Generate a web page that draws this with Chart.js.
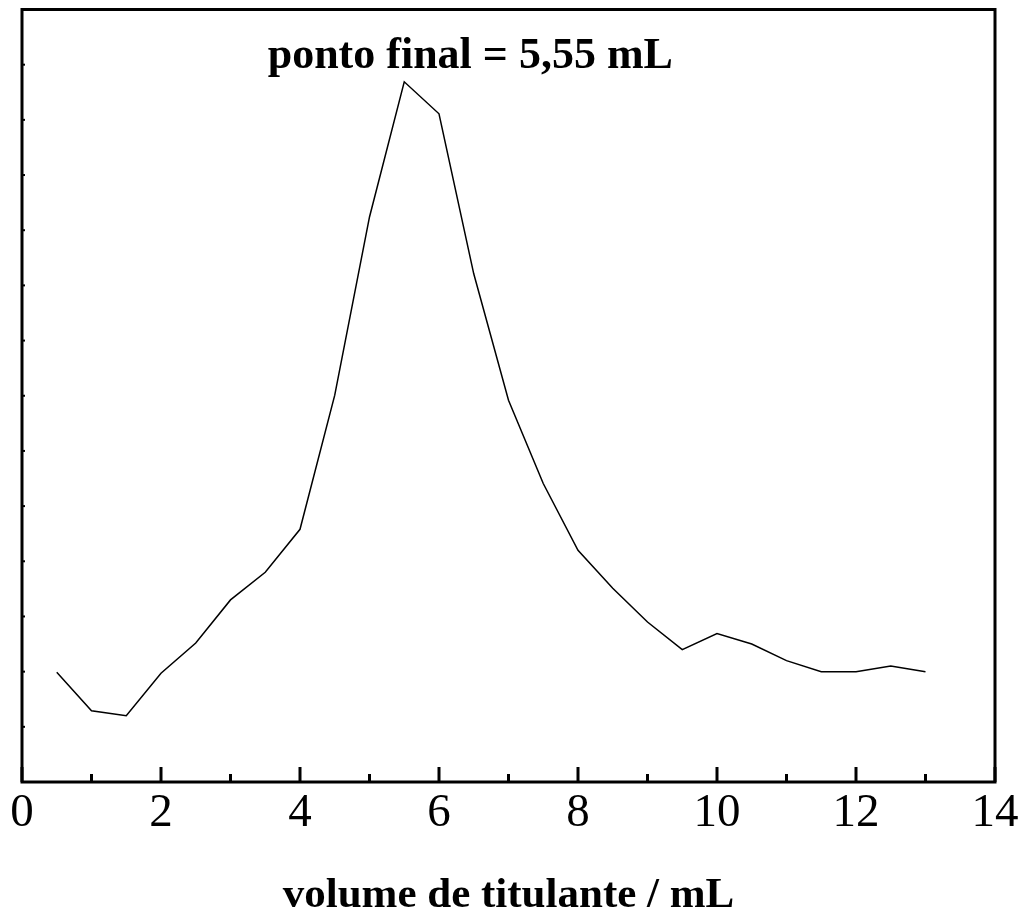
<!DOCTYPE html>
<html>
<head>
<meta charset="utf-8">
<script src="https://cdn.jsdelivr.net/npm/chart.js@4.4.1/dist/chart.umd.min.js"></script>
<style>
  html, body { margin: 0; padding: 0; background: #ffffff; }
  #wrap { width: 1024px; height: 912px; position: relative; }
</style>
</head>
<body>
<div id="wrap"><canvas id="c" width="1024" height="912"></canvas></div>
<script>
// ---- data ----
const volumes = [0.5, 1, 1.5, 2, 2.5, 3, 3.5, 4, 4.5, 5, 5.5, 6, 6.5, 7, 7.5, 8, 8.5, 9, 9.5, 10, 10.5, 11, 11.5, 12, 12.5, 13];
const derivative = [1.99, 1.29, 1.20, 1.97, 2.52, 3.30, 3.80, 4.58, 7.01, 10.24, 12.69, 12.11, 9.21, 6.92, 5.41, 4.20, 3.51, 2.90, 2.40, 2.69, 2.50, 2.20, 2.00, 2.00, 2.10, 2.00];
const xTickLabels = ['0', '2', '4', '6', '8', '10', '12', '14'];
const xTitle = 'volume de titulante / mL';
const annotationText = 'ponto final = 5,55 mL';
const annotationX = 6.45; // in x data units (text centre)

const points = volumes.map((v, i) => ({ x: v, y: derivative[i] }));

const framePlugin = {
  id: 'frame',
  afterDraw(chart) {
    const { ctx, chartArea: a, scales } = chart;
    const xs = scales.x, ys = scales.y;
    ctx.save();
    ctx.strokeStyle = '#000';
    // inner ticks on x axis
    ctx.lineWidth = 3;
    for (let v = 0; v <= 14; v++) {
      const px = xs.getPixelForValue(v);
      const len = (v % 2 === 0) ? 15 : 8;
      ctx.beginPath();
      ctx.moveTo(px, a.bottom);
      ctx.lineTo(px, a.bottom - len);
      ctx.stroke();
    }
    // tiny ticks on y axis
    ctx.lineWidth = 2;
    for (let v = 0; v <= 14; v++) {
      const py = ys.getPixelForValue(v);
      ctx.beginPath();
      ctx.moveTo(a.left, py);
      ctx.lineTo(a.left + 3, py);
      ctx.stroke();
    }
    // frame
    ctx.lineWidth = 3;
    ctx.strokeRect(a.left, a.top, a.right - a.left, a.bottom - a.top);
    // annotation
    ctx.fillStyle = '#000';
    ctx.font = 'bold 44px "Liberation Serif", "Times New Roman", serif';
    ctx.textAlign = 'center';
    ctx.textBaseline = 'alphabetic';
    ctx.fillText(annotationText, xs.getPixelForValue(annotationX), 68);
    ctx.restore();
  }
};

new Chart(document.getElementById('c'), {
  type: 'line',
  data: {
    datasets: [{
      data: points,
      borderColor: '#000000',
      borderWidth: 1.5,
      pointRadius: 0,
      tension: 0,
      fill: false
    }]
  },
  options: {
    responsive: false,
    animation: false,
    devicePixelRatio: 1,
    layout: { padding: { top: 9.5, right: 29, left: 0, bottom: 0 } },
    plugins: { legend: { display: false }, tooltip: { enabled: false }, title: { display: false } },
    scales: {
      x: {
        type: 'linear',
        min: 0, max: 14,
        grid: { display: false, drawTicks: false },
        border: { display: false },
        ticks: {
          stepSize: 2,
          autoSkip: false,
          maxRotation: 0,
          padding: 3,
          color: '#000',
          font: { family: '"Liberation Serif", "Times New Roman", serif', size: 47 },
          callback: (v) => xTickLabels[Math.round(v / 2)]
        },
        title: {
          display: true,
          text: xTitle,
          color: '#000',
          padding: { top: 6, bottom: 0 },
          font: { family: '"Liberation Serif", "Times New Roman", serif', size: 43, weight: 'bold', lineHeight: 0.75 }
        },
        afterFit: (s) => { s.height = 130; s.paddingLeft = 0; s.paddingRight = 0; }
      },
      y: {
        type: 'linear',
        min: 0, max: 14,
        grid: { display: false, drawTicks: false },
        border: { display: false },
        ticks: { display: false },
        afterFit: (s) => { s.width = 22; s.paddingTop = 0; s.paddingBottom = 0; }
      }
    }
  },
  plugins: [framePlugin]
});
</script>
</body>
</html>
